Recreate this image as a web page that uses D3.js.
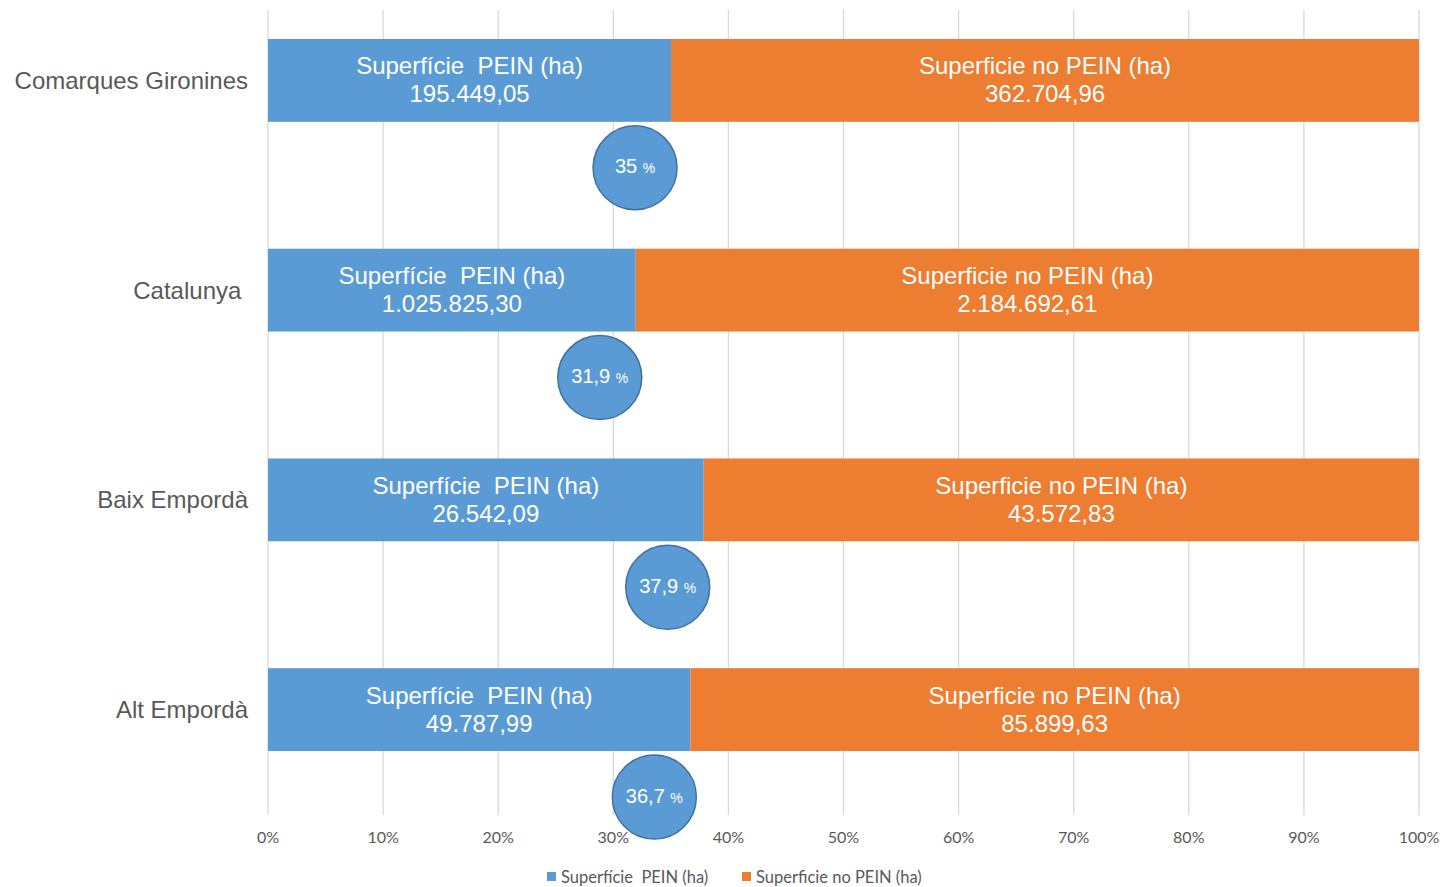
<!DOCTYPE html>
<html>
<head>
<meta charset="utf-8">
<script src="https://cdn.jsdelivr.net/npm/d3@7"></script>
<style>
  body { margin: 0; background: #fff; }
  text { white-space: pre; }
</style>
</head>
<body>
<div id="container"></div>
<script>
const categories = ["Comarques Gironines", "Catalunya ", "Baix Empordà", "Alt Empordà"];
const peinValues = [195449.05, 1025825.30, 26542.09, 49787.99];
const noPeinValues = [362704.96, 2184692.61, 43572.83, 85899.63];
const percentLabels = ["35", "31,9", "37,9", "36,7"];
const seriesNames = ["Superfície  PEIN (ha)", "Superficie no PEIN (ha)"];
const tickValues = [0, 0.1, 0.2, 0.3, 0.4, 0.5, 0.6, 0.7, 0.8, 0.9, 1];

const dimensions = { width: 1441, height: 887 };
const colors = ["#5B9BD5", "#ED7D31"];

const svg = d3.select("#container")
	.append("svg")
	.attr("width", dimensions.width)
	.attr("height", dimensions.height);

const x = d3.scaleLinear().domain([0, 1]).range([268, 1419]);
const y = d3.scaleBand()
	.domain(categories)
	.range([39, 751])
	.paddingInner(0.605)
	.paddingOuter(0);

// grid lines
svg.append("g")
	.selectAll("line")
	.data(tickValues)
	.enter()
	.append("line")
	.attr("x1", d => x(d)).attr("x2", d => x(d))
	.attr("y1", 10).attr("y2", 815)
	.attr("stroke", "#D9D9D9")
	.attr("stroke-width", 1.3);

// tick labels
svg.append("g")
	.selectAll("text")
	.data(tickValues)
	.enter()
	.append("text")
	.attr("x", d => x(d))
	.attr("y", 843)
	.attr("text-anchor", "middle")
	.attr("font-family", "Lato, Carlito, sans-serif")
	.attr("font-size", 16)
	.attr("fill", "#595959")
	.text(d => Math.round(d * 100) + "%");

const rows = categories.map((c, i) => {
	const total = peinValues[i] + noPeinValues[i];
	return { cat: c, pein: peinValues[i], noPein: noPeinValues[i], share: peinValues[i] / total, pct: percentLabels[i] };
});

const fmt = v => {
	const parts = v.toFixed(2).split(".");
	return parts[0].replace(/\B(?=(\d{3})+(?!\d))/g, ".") + "," + parts[1];
};

// category labels
svg.append("g")
	.selectAll("text")
	.data(rows)
	.enter()
	.append("text")
	.attr("x", 248)
	.attr("y", d => y(d.cat) + y.bandwidth() / 2)
	.attr("dy", "0.35em")
	.attr("text-anchor", "end")
	.attr("font-family", "Liberation Sans, Arial, sans-serif")
	.attr("font-size", 24)
	.attr("fill", "#595959")
	.text(d => d.cat);

// bars
const segs = [];
rows.forEach(r => {
	segs.push({ cat: r.cat, x0: 0, x1: r.share, s: 0, v: r.pein });
	segs.push({ cat: r.cat, x0: r.share, x1: 1, s: 1, v: r.noPein });
});

svg.append("g")
	.selectAll("rect")
	.data(segs)
	.enter()
	.append("rect")
	.attr("x", d => x(d.x0))
	.attr("width", d => x(d.x1) - x(d.x0))
	.attr("y", d => y(d.cat))
	.attr("height", y.bandwidth())
	.attr("fill", d => colors[d.s]);

const labels = svg.append("g")
	.selectAll("text")
	.data(segs)
	.enter()
	.append("text")
	.attr("x", d => (x(d.x0) + x(d.x1)) / 2)
	.attr("y", d => y(d.cat) + y.bandwidth() / 2)
	.attr("text-anchor", "middle")
	.attr("font-family", "Liberation Sans, Arial, sans-serif")
	.attr("font-size", 24)
	.attr("fill", "#fff");
labels.append("tspan").attr("dy", "-0.25em").text(d => seriesNames[d.s]);
labels.append("tspan")
	.attr("x", d => (x(d.x0) + x(d.x1)) / 2)
	.attr("dy", "1.17em")
	.text(d => fmt(d.v));

// percent bubbles
const bubbles = svg.append("g")
	.selectAll("g")
	.data(rows)
	.enter()
	.append("g")
	.attr("transform", d => `translate(${x(d.share) - 36}, ${y(d.cat) + y.bandwidth() + 46})`);

bubbles.append("circle")
	.attr("r", 42)
	.attr("fill", "#5B9BD5")
	.attr("stroke", "#41719C")
	.attr("stroke-width", 1.5);

const bt = bubbles.append("text")
	.attr("text-anchor", "middle")
	.attr("dy", "0.35em")
	.attr("font-family", "Liberation Sans, Arial, sans-serif")
	.attr("fill", "#fff");
bt.append("tspan").attr("font-size", 20).text(d => d.pct + " ");
bt.append("tspan").attr("font-size", 14).text("%");

// legend
const legendItems = [{ x: 547, s: 0 }, { x: 742, s: 1 }];
const lg = svg.append("g")
	.selectAll("g")
	.data(legendItems)
	.enter()
	.append("g")
	.attr("transform", d => `translate(${d.x}, 877)`);
lg.append("rect")
	.attr("x", 0).attr("y", -5)
	.attr("width", 9).attr("height", 9)
	.attr("fill", d => colors[d.s]);
lg.append("text")
	.attr("x", 14)
	.attr("dy", "0.35em")
	.attr("font-family", "Lato, Carlito, sans-serif")
	.attr("font-size", 16.5)
	.attr("fill", "#595959")
	.text(d => seriesNames[d.s]);
</script>
</body>
</html>
